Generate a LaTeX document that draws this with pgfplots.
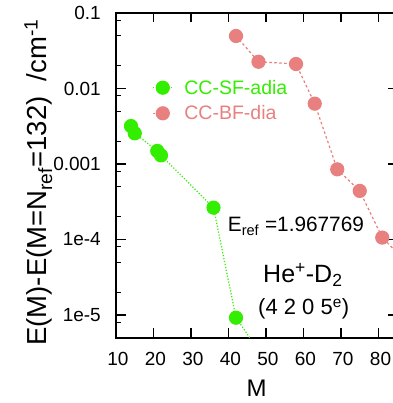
\documentclass[border=0pt]{standalone}
\usepackage{fontspec}
\setmainfont{Liberation Sans}
\usepackage{pgfplots}
\pgfplotsset{compat=1.18}
\definecolor{sfgreen}{RGB}{51,238,0}
\definecolor{bfred}{RGB}{232,128,128}
\newcommand{\fs}[1]{\fontsize{#1}{1.15\dimexpr#1\relax}\selectfont}
\begin{document}
\begin{tikzpicture}
\useasboundingbox (0,0) rectangle (393bp,403bp);
\begin{axis}[
  at={(116bp,65.3bp)}, anchor=south west,
  scale only axis, width=281.25bp, height=324.7bp,
  xmin=10, xmax=85,
  ymode=log, ymin=5e-6, ymax=0.1,
  axis line style={line width=2bp},
  tick align=inside,
  major tick length=9.5bp, minor tick length=4.5bp,
  every tick/.style={black, line width=1.2bp},
  xtick={10,20,30,40,50,60,70,80},
  xticklabels={10,20,30,40,50,60,70,80},
  ytick={1e-5,1e-4,1e-3,1e-2,1e-1},
  yticklabels={1e-5,1e-4,0.001,0.01,0.1},
  minor ytick={8e-6,2e-5,5e-5,8e-5,2e-4,5e-4,8e-4,2e-3,5e-3,8e-3,2e-2,5e-2,8e-2},
  /pgf/number format/assume math mode=true,
  ticklabel style={font=\fs{19bp}},
  yticklabel style={anchor=east, inner sep=0pt, xshift=-15bp},
  xticklabel style={anchor=north, inner sep=0pt, yshift=-14.6bp, xshift=2bp},
  legend style={at={(0.128,0.7305)}, anchor=west, draw=none, fill=none,
    font=\fs{19.5bp}, inner sep=0pt, row sep=6bp,
    /tikz/every odd column/.append style={column sep=9bp}},
  legend cell align=left,
  legend image code/.code={%
    \draw[mark repeat=2, mark phase=2, #1]
      plot coordinates {(0bp,0bp) (10bp,0bp) (20bp,0bp)};},
]
\addplot[sfgreen, line width=1.2bp, dash pattern=on 1.2bp off 1.8bp,
  mark=*, mark size=6.5bp, mark options={solid, draw=sfgreen, fill=sfgreen}]
  coordinates {(14,0.00318) (15,0.00255) (21,0.00149) (22,0.0013)
               (36,2.64e-4) (42,9.2e-6) (48,3.4e-6)};
\addlegendentry{\textcolor{sfgreen}{CC-SF-adia}}
\addplot[bfred, line width=1.2bp, dash pattern=on 2.5bp off 2.5bp,
  mark=*, mark size=6.5bp, mark options={solid, draw=bfred, fill=bfred}]
  coordinates {(42,0.0496) (48,0.0226) (58,0.0211) (63,0.0063)
               (69,8.5e-4) (75,4.4e-4) (81,1.06e-4) (87,5.3e-5)};
\addlegendentry{\textcolor{bfred}{CC-BF-dia}}
\end{axis}
\node[rotate=90, anchor=base, inner sep=0pt, font=\fs{27.5bp}]
  at (46.7bp,220.5bp) {E(M)-E(M=N\textsubscript{ref}=132)\ \ /cm\textsuperscript{-1}};
\node[anchor=base, inner sep=0pt, font=\fs{24bp}] at (256.7bp,7bp) {M};
\node[anchor=base west, inner sep=0pt, font=\fs{20.8bp}]
  at (227.7bp,171.3bp) {E\textsubscript{ref} =1.967769};
\node[anchor=base west, inner sep=0pt, font=\fs{25bp}]
  at (263bp,120.3bp) {He\textsuperscript{+}-D\textsubscript{2}};
\node[anchor=base west, inner sep=0pt, font=\fs{22bp}]
  at (258bp,88bp) {(4 2 0 5\textsuperscript{e})};
\end{tikzpicture}
\end{document}
